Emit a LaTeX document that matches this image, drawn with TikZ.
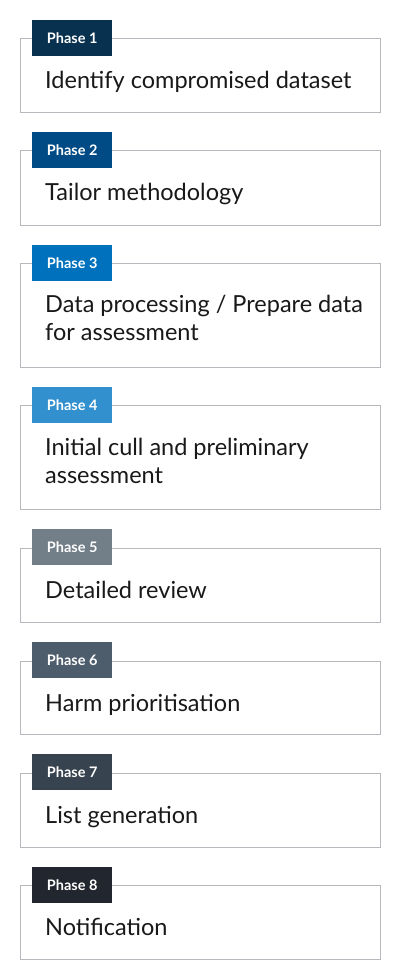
\documentclass[tikz,border=0pt]{standalone}
\usepackage{fontspec}
\setmainfont{Lato}
\definecolor{cA}{HTML}{08304F}
\definecolor{cB}{HTML}{004B85}
\definecolor{cC}{HTML}{0071BC}
\definecolor{cD}{HTML}{3390CF}
\definecolor{cE}{HTML}{727F89}
\definecolor{cF}{HTML}{4E5D6C}
\definecolor{cG}{HTML}{37434E}
\definecolor{cH}{HTML}{22262E}
\definecolor{boxline}{HTML}{B6BABE}
\tikzset{
  frame/.style={draw=boxline, line width=1pt, minimum width=360pt, anchor=north west, inner sep=0pt},
  tag/.style={fill=#1, text=white, font=\fontsize{14.5pt}{16pt}\selectfont\bfseries, minimum width=80pt, minimum height=36pt, anchor=north west, inner sep=0pt},
  label/.style={anchor=base west, inner sep=0pt, font=\fontsize{23.5pt}{28pt}\selectfont, text=black!90}
}
\begin{document}
\begin{tikzpicture}[x=1pt,y=-1pt]
\useasboundingbox[fill=white] (0,0) rectangle (400,980);
% Phase 1
\node[frame, minimum height=74pt] (b1) at (20,38) {};
\node[tag=cA] (t1) at (32,20) {Phase 1};
\node[label] (l1) at (45,88) {Identify compromised dataset};
% Phase 2
\node[frame, minimum height=75pt] (b2) at (20,150) {};
\node[tag=cB] (t2) at (32,132) {Phase 2};
\node[label] (l2) at (45,200) {Tailor methodology};
% Phase 3
\node[frame, minimum height=104pt] (b3) at (20,263) {};
\node[tag=cC] (t3) at (32,245) {Phase 3};
\node[label] (l3) at (45,312) {\vtop{\baselineskip=28pt\hbox{Data processing / Prepare data}\hbox{for assessment}}};
% Phase 4
\node[frame, minimum height=104pt] (b4) at (20,405) {};
\node[tag=cD] (t4) at (32,387) {Phase 4};
\node[label] (l4) at (45,455) {\vtop{\baselineskip=28pt\hbox{Initial cull and preliminary}\hbox{assessment}}};
% Phase 5
\node[frame, minimum height=74pt] (b5) at (20,548) {};
\node[tag=cE] (t5) at (32,529) {Phase 5};
\node[label] (l5) at (45,598) {Detailed review};
% Phase 6
\node[frame, minimum height=73pt] (b6) at (20,661) {};
\node[tag=cF] (t6) at (32,642) {Phase 6};
\node[label] (l6) at (45,711) {Harm prioritisation};
% Phase 7
\node[frame, minimum height=74pt] (b7) at (20,773) {};
\node[tag=cG] (t7) at (32,754) {Phase 7};
\node[label] (l7) at (45,823) {List generation};
% Phase 8
\node[frame, minimum height=74pt] (b8) at (20,885) {};
\node[tag=cH] (t8) at (32,867) {Phase 8};
\node[label] (l8) at (45,935) {Notification};
\end{tikzpicture}
\end{document}
